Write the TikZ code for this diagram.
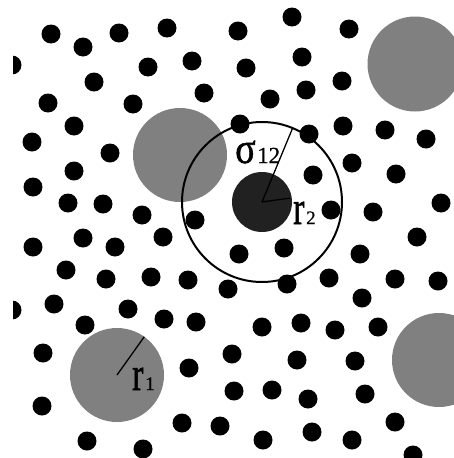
\documentclass[tikz,border=0pt]{standalone}
\usepackage{fontspec}
\usepackage{graphicx}
\usetikzlibrary{calc}
\setmainfont{Liberation Serif}
\newfontfamily\heavyfont[FakeBold=1.2]{Liberation Serif}
\newfontfamily\subfont[FakeBold=0.5]{Liberation Serif}
\definecolor{bigsph}{gray}{0.5}
\definecolor{darksph}{gray}{0.13}
\tikzset{
  dot/.style={fill=black},
  bigsphere/.style={fill=bigsph},
  label/.style={inner sep=0pt, anchor=base west, text=black},
  radius line/.style={line width=1.3pt, black},
}
\begin{document}
\begin{tikzpicture}[x=1pt,y=-1pt]
\useasboundingbox (0,0) rectangle (454,458);
\begin{scope}
\clip (13,0) rectangle (454,458);
% large grey particles
\fill[bigsphere] (180,155) circle (47);
\fill[bigsphere] (415,64) circle (47.5);
\fill[bigsphere] (117,375) circle (47);
\fill[bigsphere] (439,360) circle (47);
% small particles
\foreach \x/\y in {
 51/34, 83/47, 119/33, 167/28, 12/65, 148/67, 192/61, 94/82, 48/103, 133/104,
 204/93, 74/126, 32/142, 110/153, 74/171, 33/187, 68/203, 103/204, 142/215, 195/220,
 238/31, 292/17, 349/29, 246/68, 302/57, 342/81, 306/90, 270/99, 240/124, 309/134,
 343/126, 385/130, 426/139, 352/163, 313/175, 396/174, 441/203, 331/210, 373/212,
 33/247, 83/238, 115/247, 163/237, 66/270, 106/279, 151/277, 188/280, 228/289,
 12/310, 54/304, 128/309, 164/319, 196/322, 85/325, 43/353, 189/368, 232/354,
 234/391, 42/406, 182/423, 220/426, 87/441, 143/449,
 239/254, 284/248, 360/254, 417/237, 287/284, 329/278, 395/279, 438/281, 362/298,
 262/327, 301/323, 335/330, 378/327, 297/360, 355/361, 272/390, 308/399, 365/394,
 263/440, 312/432, 352/440, 395/422, 413/455}
  \fill[dot] (\x,\y) circle (9.5);
\end{scope}
% central particle and interaction sphere
\coordinate (c2) at (262,202);
\fill[darksph] (c2) circle (30);
\draw[line width=2pt] (c2) circle (80);
\coordinate (s12) at ($(c2)+(-67.5:80)$);
\coordinate (r2end) at ($(c2)+(-8:28)$);
\draw[radius line] (c2) -- (s12);
\draw[radius line] (c2) -- (r2end);
% radius of big particle
\coordinate (c1) at (117,375);
\coordinate (r1end) at ($(c1)+(-54.5:47)$);
\draw[radius line] (c1) -- (r1end);
% labels
\node[label] (sig) at (235,163) {\scalebox{1}[1.15]{\heavyfont\fontsize{38}{40}\selectfont σ}};
\node[label] (sigsub) at (257,163) {\subfont\fontsize{23}{25}\selectfont 12};
\node[label] (rtwo) at (293,224) {\scalebox{1}[1.4]{\heavyfont\fontsize{34}{36}\selectfont r}};
\node[label] (rtwosub) at (306,224) {\subfont\fontsize{19}{21}\selectfont 2};
\node[label] (rone) at (132,390) {\scalebox{1}[1.4]{\heavyfont\fontsize{34}{36}\selectfont r}};
\node[label] (ronesub) at (145,390) {\subfont\fontsize{19}{21}\selectfont 1};
\end{tikzpicture}
\end{document}
